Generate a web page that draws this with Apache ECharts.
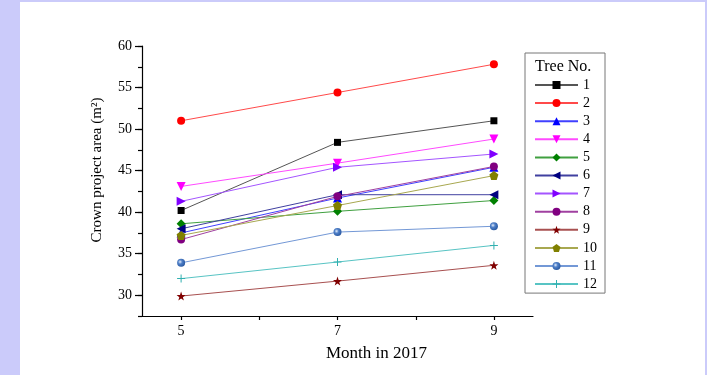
<!DOCTYPE html>
<html>
<head>
<meta charset="utf-8">
<script src="https://cdn.jsdelivr.net/npm/echarts@6/dist/echarts.min.js"></script>
<style>
  html, body { margin: 0; padding: 0; width: 707px; height: 375px; background: #cbcbfa; overflow: hidden; }
  #chart { position: absolute; left: 20px; top: 2px; width: 685px; height: 373px; background: #ffffff; }
</style>
</head>
<body>
<div id="chart"></div>
<script>
// Crown projection area of 12 trees, measured in May, July and September 2017
const months = [5, 7, 9];
const treeNames = ['1', '2', '3', '4', '5', '6', '7', '8', '9', '10', '11', '12'];
const tree1  = [40.2, 48.4, 51.0];
const tree2  = [51.0, 54.4, 57.8];
const tree3  = [37.5, 41.7, 45.4];
const tree4  = [43.1, 45.9, 48.8];
const tree5  = [38.6, 40.1, 41.4];
const tree6  = [38.0, 42.1, 42.1];
const tree7  = [41.3, 45.4, 47.0];
const tree8  = [36.7, 41.9, 45.5];
const tree9  = [29.9, 31.7, 33.6];
const tree10 = [37.2, 40.8, 44.4];
const tree11 = [33.9, 37.6, 38.3];
const tree12 = [32.0, 34.0, 36.0];
const yTicks = [30, 35, 40, 45, 50, 55, 60];
const xTicks = [5, 7, 9];

const treeValues = [tree1, tree2, tree3, tree4, tree5, tree6, tree7, tree8, tree9, tree10, tree11, tree12];

const FONT = "'Liberation Serif', 'Times New Roman', serif";

const STAR = 'path://M0,-10L2.35,-3.24L9.51,-3.09L3.8,1.24L5.88,8.09L0,4L-5.88,8.09L-3.8,1.24L-9.51,-3.09L-2.35,-3.24Z';
const PENTAGON = 'path://M0,-10L9.51,-3.09L5.88,8.09L-5.88,8.09L-9.51,-3.09Z';
const PLUS = 'path://M3.5,0h1v3.5h3.5v1h-3.5v3.5h-1v-3.5h-3.5v-1h3.5z';
const sphere = {
  type: 'radial', x: 0.38, y: 0.38, r: 0.75,
  colorStops: [
    { offset: 0, color: '#e6eefb' },
    { offset: 0.35, color: '#4f80c8' },
    { offset: 1, color: '#1f4d96' }
  ]
};

// marker look for each tree
const styles = [
  { color: '#000000', line: '#555555', symbol: 'rect', size: 7, rotate: 0 },
  { color: '#ff0000', line: '#ff4a4a', symbol: 'circle', size: 8, rotate: 0 },
  { color: '#0000ff', line: '#4040ff', symbol: 'triangle', size: 9, rotate: 0 },
  { color: '#ff00ff', line: '#ff4aff', symbol: 'triangle', size: 9, rotate: 180 },
  { color: '#008000', line: '#40a040', symbol: 'diamond', size: 9, rotate: 0 },
  { color: '#000080', line: '#4040a0', symbol: 'triangle', size: 9, rotate: 90 },
  { color: '#8000ff', line: '#a455ff', symbol: 'triangle', size: 9, rotate: -90 },
  { color: '#800080', line: '#a040a0', symbol: 'circle', size: 8, rotate: 0 },
  { color: '#800000', line: '#a85050', symbol: STAR, size: 9, rotate: 0 },
  { color: '#808000', line: '#a8a850', symbol: PENTAGON, size: 9, rotate: 0 },
  { color: sphere,    line: '#7398d6', symbol: 'circle', size: 8, rotate: 0 },
  { color: '#30b0b0', line: '#58c4c4', symbol: PLUS, size: 8, rotate: 0 }
];

const series = treeNames.map((name, i) => ({
  name: name,
  type: 'line',
  xAxisIndex: 0,
  yAxisIndex: 0,
  data: months.map((m, j) => [m, treeValues[i][j]]),
  symbol: styles[i].symbol,
  symbolSize: styles[i].size,
  symbolRotate: styles[i].rotate,
  showAllSymbol: true,
  itemStyle: { color: styles[i].color, borderWidth: 0 },
  lineStyle: { color: styles[i].line, width: 1 },
  emphasis: { disabled: true },
  animation: false,
  z: 2 + i
}));

const chart = echarts.init(document.getElementById('chart'), null, { renderer: 'canvas' });

chart.setOption({
  backgroundColor: '#ffffff',
  animation: false,
  textStyle: { fontFamily: FONT },
  title: {
    text: 'Tree No.',
    left: 515,
    top: 57,
    padding: 0,
    textStyle: { fontFamily: FONT, fontSize: 16, fontWeight: 'normal', color: '#000' }
  },
  legend: {
    orient: 'vertical',
    left: 505,
    top: 51,
    data: treeNames,
    itemWidth: 43,
    itemHeight: 10,
    itemGap: 2.1,
    padding: [24, 8, 1, 9],
    borderColor: '#777777',
    borderWidth: 1,
    selectedMode: false,
    textStyle: { fontFamily: FONT, fontSize: 14, color: '#000', lineHeight: 16 }
  },
  grid: [
    // plotting frame: value range 4.5–9.5 by 27.5–60
    { left: 122, top: 44, right: 172, bottom: 59, containLabel: false },
    // frame for the labelled ticks: 5–9 by 30–60
    { left: 161, top: 44, right: 211, bottom: 79.77, containLabel: false }
  ],
  xAxis: [
    {
      gridIndex: 0, type: 'value', min: 4.5, max: 9.5,
      axisLine: { show: true, lineStyle: { color: '#000', width: 1.2 } },
      axisTick: { show: false },
      axisLabel: { show: false },
      splitLine: { show: false },
      name: 'Month in 2017',
      nameLocation: 'middle',
      nameGap: 29,
      nameTextStyle: { fontFamily: FONT, fontSize: 17, color: '#000', padding: [0, 0, 0, 78] }
    },
    {
      gridIndex: 1, type: 'value', min: 5, max: 9, interval: 1,
      offset: 20.77,
      axisLine: { show: false },
      axisTick: { show: true, length: 4, inside: false, lineStyle: { color: '#000', width: 1.2 } },
      axisLabel: {
        show: true, margin: 8, color: '#000', fontFamily: FONT, fontSize: 14,
        formatter: v => (xTicks.indexOf(v) >= 0 ? String(v) : '')
      },
      splitLine: { show: false }
    }
  ],
  yAxis: [
    {
      gridIndex: 0, type: 'value', min: 27.5, max: 60, interval: 2.5,
      axisLine: { show: true, lineStyle: { color: '#000', width: 1.2 } },
      axisTick: { show: true, length: 4, inside: false, lineStyle: { color: '#000', width: 1.2 } },
      axisLabel: { show: false },
      splitLine: { show: false },
      name: 'Crown project area (m²)',
      nameLocation: 'middle',
      nameGap: 37,
      nameRotate: 90,
      nameTextStyle: { fontFamily: FONT, fontSize: 15, color: '#000', padding: [0, 0, 0, 22] }
    },
    {
      gridIndex: 1, type: 'value', min: 30, max: 60, interval: 5,
      offset: 39,
      axisLine: { show: false },
      axisTick: { show: true, length: 7, inside: false, lineStyle: { color: '#000', width: 1.2 } },
      axisLabel: {
        show: true, margin: 10, color: '#000', fontFamily: FONT, fontSize: 14,
        formatter: v => (yTicks.indexOf(v) >= 0 ? String(v) : '')
      },
      splitLine: { show: false }
    }
  ],
  series: series
});
</script>
</body>
</html>
